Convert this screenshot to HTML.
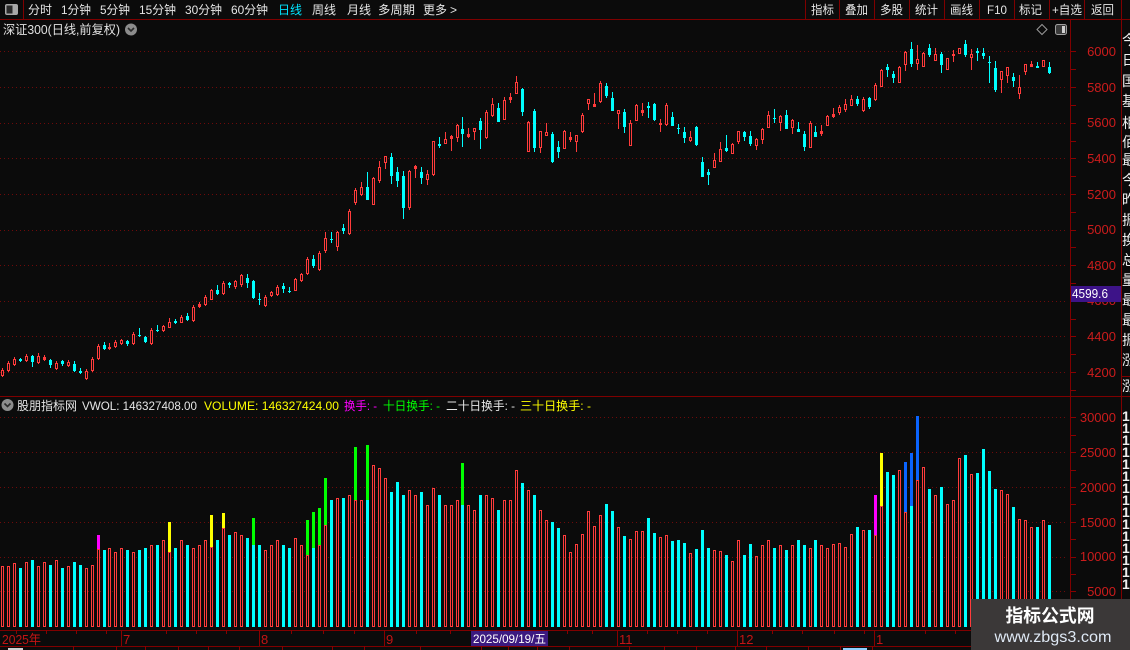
<!DOCTYPE html>
<html><head><meta charset="utf-8">
<style>
html,body{margin:0;padding:0;background:#0b0b0b;width:1130px;height:650px;overflow:hidden}
svg{display:block}
text{font-family:"Liberation Sans","Noto Sans CJK SC",sans-serif}
</style></head><body>
<svg id="s" width="1130" height="650" viewBox="0 0 1130 650" xmlns="http://www.w3.org/2000/svg">
<rect width="1130" height="650" fill="#0b0b0b"/>
<g id="grid"></g>
<g id="cand"></g>
<g id="vol"></g>

<!-- frame lines -->
<g stroke="#7f0000" stroke-width="1" fill="none">
<line x1="0" y1="19.5" x2="1130" y2="19.5"/>
<line x1="23.5" y1="0" x2="23.5" y2="19"/>
<line x1="805.5" y1="0" x2="805.5" y2="19"/>
<line x1="839.5" y1="0" x2="839.5" y2="19"/>
<line x1="874.5" y1="0" x2="874.5" y2="19"/>
<line x1="909.5" y1="0" x2="909.5" y2="19"/>
<line x1="944.5" y1="0" x2="944.5" y2="19"/>
<line x1="979.5" y1="0" x2="979.5" y2="19"/>
<line x1="1014.5" y1="0" x2="1014.5" y2="19"/>
<line x1="1049.5" y1="0" x2="1049.5" y2="19"/>
<line x1="1084.5" y1="0" x2="1084.5" y2="19"/>
<line x1="1121.5" y1="0" x2="1121.5" y2="650"/>
<line x1="1070.5" y1="19" x2="1070.5" y2="646"/>
<line x1="0" y1="396.5" x2="1130" y2="396.5"/>
<line x1="0" y1="630.5" x2="1121" y2="630.5"/>
<line x1="0" y1="646.5" x2="1130" y2="646.5"/>
<line x1="1121" y1="376.5" x2="1130" y2="376.5"/>
</g>
<g id="ticks" stroke="#8a0000" stroke-width="1"></g>

<!-- toolbar -->
<rect x="5" y="4" width="13" height="11" rx="2" fill="#a8a8a8"/>
<rect x="6.5" y="5.5" width="6" height="8" fill="#2a2a2a"/>
<g font-size="12" fill="#e6e6e6">
<text x="28" y="14" textLength="24" lengthAdjust="spacingAndGlyphs">分时</text>
<text x="61" y="14" textLength="30" lengthAdjust="spacingAndGlyphs">1分钟</text>
<text x="100" y="14" textLength="30" lengthAdjust="spacingAndGlyphs">5分钟</text>
<text x="139" y="14" textLength="37" lengthAdjust="spacingAndGlyphs">15分钟</text>
<text x="185" y="14" textLength="37" lengthAdjust="spacingAndGlyphs">30分钟</text>
<text x="231" y="14" textLength="37" lengthAdjust="spacingAndGlyphs">60分钟</text>
<text x="278" y="14" textLength="24" lengthAdjust="spacingAndGlyphs" fill="#00e4ff">日线</text>
<text x="312" y="14" textLength="24" lengthAdjust="spacingAndGlyphs">周线</text>
<text x="347" y="14" textLength="24" lengthAdjust="spacingAndGlyphs">月线</text>
<text x="378" y="14" textLength="37" lengthAdjust="spacingAndGlyphs">多周期</text>
<text x="423" y="14" textLength="24" lengthAdjust="spacingAndGlyphs">更多</text>
<text x="450" y="14">&gt;</text>
<text x="811" y="14" textLength="23" lengthAdjust="spacingAndGlyphs">指标</text>
<text x="845" y="14" textLength="23" lengthAdjust="spacingAndGlyphs">叠加</text>
<text x="880" y="14" textLength="23" lengthAdjust="spacingAndGlyphs">多股</text>
<text x="915" y="14" textLength="23" lengthAdjust="spacingAndGlyphs">统计</text>
<text x="950" y="14" textLength="23" lengthAdjust="spacingAndGlyphs">画线</text>
<text x="987" y="14" textLength="20" lengthAdjust="spacingAndGlyphs">F10</text>
<text x="1019" y="14" textLength="23" lengthAdjust="spacingAndGlyphs">标记</text>
<text x="1052" y="14" textLength="30" lengthAdjust="spacingAndGlyphs">+自选</text>
<text x="1091" y="14" textLength="23" lengthAdjust="spacingAndGlyphs">返回</text>
</g>

<!-- title line -->
<text x="3" y="34" font-size="12.5" fill="#e0e0e0" textLength="117" lengthAdjust="spacingAndGlyphs">深证300(日线,前复权)</text>
<circle cx="131" cy="29.5" r="6" fill="#8c8c8c"/>
<path d="M128 28 l3 3 l3 -3" stroke="#2a2a2a" stroke-width="1.6" fill="none"/>
<path d="M1042 24.5 l5 5 l-5 5 l-5 -5 z" stroke="#9a9a9a" fill="none"/>
<rect x="1055.5" y="24.5" width="11" height="10" rx="2" fill="#3a3a3a" stroke="#a0a0a0"/>
<rect x="1062" y="26" width="3" height="7" fill="#d0d0d0"/>

<!-- price axis labels -->
<g font-size="13" fill="#cc1c1c" text-anchor="end">
<text x="1116" y="56">6000</text>
<text x="1116" y="92">5800</text>
<text x="1116" y="127">5600</text>
<text x="1116" y="163">5400</text>
<text x="1116" y="199">5200</text>
<text x="1116" y="234">5000</text>
<text x="1116" y="270">4800</text>
<text x="1116" y="305">4600</text>
<text x="1116" y="341">4400</text>
<text x="1116" y="377">4200</text>
</g>
<rect x="1071" y="286" width="50" height="16" fill="#3d1388"/>
<text x="1072" y="298" font-size="12.5" fill="#ffffff" textLength="36" lengthAdjust="spacingAndGlyphs">4599.6</text>

<!-- volume header -->
<circle cx="7.5" cy="405" r="6" fill="#8c8c8c"/>
<path d="M4.5 403.5 l3 3 l3 -3" stroke="#2a2a2a" stroke-width="1.6" fill="none"/>
<g font-size="12">
<text x="17" y="410" fill="#e6e6e6" textLength="60" lengthAdjust="spacingAndGlyphs">股朋指标网</text>
<text x="82" y="410" fill="#e6e6e6" textLength="115" lengthAdjust="spacingAndGlyphs">VWOL: 146327408.00</text>
<text x="204" y="410" fill="#ffff00" textLength="135" lengthAdjust="spacingAndGlyphs">VOLUME: 146327424.00</text>
<text x="344" y="410" fill="#ff00ff" textLength="33" lengthAdjust="spacingAndGlyphs">换手: -</text>
<text x="383" y="410" fill="#00ff00" textLength="57" lengthAdjust="spacingAndGlyphs">十日换手: -</text>
<text x="446" y="410" fill="#e6e6e6" textLength="69" lengthAdjust="spacingAndGlyphs">二十日换手: -</text>
<text x="520" y="410" fill="#ffff00" textLength="71" lengthAdjust="spacingAndGlyphs">三十日换手: -</text>
</g>

<!-- volume axis labels -->
<g font-size="13" fill="#cc1c1c" text-anchor="end">
<text x="1116" y="422">30000</text>
<text x="1116" y="457">25000</text>
<text x="1116" y="492">20000</text>
<text x="1116" y="527">15000</text>
<text x="1116" y="561">10000</text>
<text x="1116" y="596">5000</text>
</g>

<!-- date axis -->
<g stroke="#8a0000" stroke-width="1">
<line x1="121.5" y1="630" x2="121.5" y2="646"/>
<line x1="259.5" y1="630" x2="259.5" y2="646"/>
<line x1="384.5" y1="630" x2="384.5" y2="646"/>
<line x1="617.5" y1="630" x2="617.5" y2="646"/>
<line x1="737.5" y1="630" x2="737.5" y2="646"/>
<line x1="874.5" y1="630" x2="874.5" y2="646"/>
</g>
<g id="dticks" stroke="#8a0000" stroke-width="1"></g>
<g font-size="13" fill="#c41414">
<text x="2" y="644" textLength="39" lengthAdjust="spacingAndGlyphs">2025年</text>
<text x="123" y="644">7</text>
<text x="261" y="644">8</text>
<text x="386" y="644">9</text>
<text x="619" y="644">11</text>
<text x="739" y="644">12</text>
<text x="876" y="644">1</text>
</g>
<rect x="471" y="631" width="77" height="15" fill="#3c1a80"/>
<text x="473" y="643" font-size="12" fill="#ffffff" textLength="73" lengthAdjust="spacingAndGlyphs">2025/09/19/五</text>

<!-- bottom row separators -->
<g id="brow" stroke="#8a0000" stroke-width="1"></g>
<rect x="8" y="648" width="15" height="2" fill="#d0d0d0"/>
<rect x="843" y="648" width="24" height="2" fill="#8fd0ff"/>

<!-- right side column -->
<g font-size="14" fill="#f0f0f0" clip-path="url(#rc)">
<text x="1122" y="45">今</text><text x="1122" y="65">日</text><text x="1122" y="86">国</text>
<text x="1122" y="106">基</text><text x="1122" y="128">相</text><text x="1122" y="147">佰</text>
<text x="1122" y="165">最</text><text x="1122" y="185">今</text><text x="1122" y="205">昨</text>
<text x="1122" y="225">振</text><text x="1122" y="245">换</text><text x="1122" y="265">总</text>
<text x="1122" y="285">量</text><text x="1122" y="305">最</text><text x="1122" y="325">最</text>
<text x="1122" y="345">振</text><text x="1122" y="365">涨</text><text x="1122" y="391">涨</text>
</g>
<g id="ones" font-size="14" font-weight="bold" fill="#f0f0f0"></g>
<defs><clipPath id="rc"><rect x="1122" y="20" width="8" height="630"/></clipPath></defs>

<!-- watermark -->
<rect x="971" y="599" width="159" height="51" fill="#3b3838"/>
<text x="1050" y="622" font-size="18" font-weight="bold" fill="#ffffff" text-anchor="middle" textLength="89" lengthAdjust="spacingAndGlyphs">指标公式网</text>
<text x="1053" y="642" font-size="16" fill="#dfe9f5" text-anchor="middle" textLength="117" lengthAdjust="spacingAndGlyphs">www.zbgs3.com</text>
</svg>
<script>
(function(){
const NS='http://www.w3.org/2000/svg';
function el(g,tag,a){const e=document.createElementNS(NS,tag);for(const k in a)e.setAttribute(k,a[k]);g.appendChild(e);return e;}
const RED='#ff3b3b',CY='#00ffff';
const C=[
[0,370,374.5,368,377],[0,363,369.5],[0,359,364,357,366],[1,358.5,361,357.5,362],[0,356,359.5],[1,356,362,355,367],[0,356,361.5,353],[0,356.5,359],[1,360,365,359,368],[0,363,367.5],
[1,361,364,360,366],[0,362,365],[1,364,371,361,372],[1,370.5,373,368,374],[0,371,377.5],[0,359,369.5],[0,345.5,357.5],[1,345,349,342,350],[0,346.5,347.5,342.5,349.5],[0,341.5,346],
[0,340,343,339,345],[1,341,344,340,346],[0,334,343],[1,334.5,335.5,328,337],[1,337,342,336,343],[0,330,343],[1,330,331,325,332],[0,326,330,325,332],[0,322,327,318,328],[1,320.5,323,319,324],
[0,317,322,315,323],[1,315.5,319.5,313,321],[0,307,319.5],[0,303.5,306,302,307.5],[0,297,303.5],[0,290,299,289,300],[1,290,293.5,285,294.5],[0,283,293],[1,282.5,284.5,282,288],[0,281,286,280,289],
[0,275,284,274,287],[1,278,282.5,274,288],[1,281,298,280,299],[1,299,300,293,305],[0,297,305],[0,292,295,291,297],[0,287,293.5],[1,286,289,283,293],[1,291,292,287,293],[0,279,289.5,278,290],
[0,274,280,273,282],[0,259,273],[1,259,266,255,268],[0,253,269],[0,238,250,232,253],[1,238.5,239.5,232,243],[0,232,246,231,251],[1,228,231,224,234],[0,211,233],[0,190,202,188,205],
[0,187,194,182,196],[1,187,200,172,200],[0,178,204,177,205],[0,167,180,161,183],[0,156,162,156,169],[1,157,176,153,184],[1,172,181,167,187],[1,176,208,171,219],[0,171,207,170,210],[0,166,168,165,178],
[1,172,178,167,184],[0,174,179,170,185],[0,141,174,141,176],[1,144,146,137,148],[0,139,143,132,144],[0,136,138,135,151],[0,125,137,124,142],[1,129,134,117,147],[0,134,136,128,138],[0,128,131,128,140],
[1,121,130,118,149],[0,112,137],[0,104,115,98,117],[1,108,122,103,122],[0,100,119,97,120],[0,97,99,93,103],[0,82,93,76,94],[1,89,112,88,116],[0,122,151,121,152],[1,111,148,109,152],
[0,131,147,131,153],[0,132,135,123,135],[1,134,162,132,163],[1,147,152,141,158],[0,131,148,130,149],[0,137,139,132,142],[0,135,141,135,152],[0,115,131],[0,99,103,99,110],[0,104,106,93,106],
[0,83,101],[1,86,96,83,98],[1,98,111,92,111],[0,110,113,110,129],[1,112,127,109,133],[0,123,145,120,145],[0,105,120,104,120],[0,110,112,103,116],[1,106,108,102,118],[1,104,120,103,121],
[0,122.5,123.5,119,132],[0,105,124],[1,117,126,112,126],[1,127.5,128.5,124,134],[1,132,138,127,143],[0,137,140,131,142],[1,127,145,126,146],[1,162,177,157,177],[1,172,175,169,185],[0,160,167,153,167],
[0,149,161,142,161],[1,148,151,135,152],[0,144,153,143,154],[0,131,141,131,144],[1,132,137,131,141],[1,136,144,131,146],[0,139,145,138,150],[0,129,139,128,144],[0,115,127,111,127],[1,117.5,118.5,109,123],
[0,116,122,115,131],[1,115,129,110,129],[0,120,127,119,134],[1,129,132,122,132],[1,134,147,131,151],[0,123,147,121,147],[1,132,137,126,137],[0,131,133,125,136],[0,116,125,115,125],[0,114,116,108,118],
[0,107,112,105,115],[0,104,109,99,112],[0,99,105,95,106],[1,99,104,96,106],[0,99,110],[1,98,107,97,109],[0,85,99],[0,70,86,69,87],[1,67,70,64,77],[1,74,78,71,83],
[0,67,82,66,82],[0,52,64,51,71],[1,49,64,42,67],[0,59,63,45,70],[0,53,66,52,66],[1,48,55,44,57],[0,54,60,48,60],[1,54,65,52,73],[0,58,69,58,70],[0,54,55,50,62],
[0,48,53,48,54],[1,44,55,40,57],[0,54,57,49,70],[1,51,53,48,61],[1,53,56,48,59],[1,62,63,56,83],[1,68,90,61,92],[0,71,79,71,93],[0,67,75,67,83],[1,77,81,73,87],
[0,87,93,75,99],[0,64,71,64,75],[0,64,65.5,61,67],[1,66,67.5,62,68],[0,60,66,60,67],[1,67,73,62,74]
];
const V=[566,566,563,568,562,560,566,562,565,560,568,566,562,565,568,565,
535,550,548,552,548,550,552,550,548,545,545,540,522,548,540,545,
548,545,540,515,540,513,535,532,535,538,518,545,550,545,540,545,
548,538,545,520,512,508,478,500,498,498,495,447,500,445,465,468,
478,492,482,495,490,495,492,505,488,495,505,505,500,463,505,510,
495,495,498,510,500,500,470,483,490,495,510,520,522,528,
535,552,544,534,511,526,515,504,511,527,536,539,531,531,518,533,537,535,541,540,543,553,549,530,548,550,551,555,561,540,555,544,556,
545,540,548,545,550,545,540,545,548,540,545,548,
544,543,547,534,527,530,530,495,453,472,475,470,462,453,416,467,489,495,487,504,500,458,455,474,473,449,471,489,490,494,507,519,520,527,527,520,525];
const MG='#ff00ff',YL='#ffff00',GR='#00ff00',BL='#0a64ff';
const O={16:[MG,535,549],28:[YL,522,552],35:[YL,515,547],37:[YL,513,528],42:[GR,518,545],51:[GR,520,555],52:[GR,512,548],53:[GR,508,545],54:[GR,478,525],59:[GR,447,500],61:[GR,445,500],77:[GR,463,505],146:[MG,495,535],147:[YL,453,506],151:[BL,462,512],152:[BL,453,506],153:[BL,416,480]};
const g=document.getElementById('grid'),gc=document.getElementById('cand'),gv=document.getElementById('vol'),gt=document.getElementById('ticks');
// price grid
for(let p=4200;p<=6000;p+=200){const y=Math.round(372-(p-4200)*0.17806)+0.5;
 el(g,'line',{x1:0,y1:y,x2:1068,y2:y,stroke:'#6e0a0a','stroke-width':1,'stroke-dasharray':'1 3'});}
for(let p=4100;p<=6050;p+=100){const y=Math.round(372-(p-4200)*0.17806)+0.5; if(y<22||y>392)continue;
 el(gt,'line',{x1:1071,y1:y,x2:1076,y2:y});}
for(let v=5000;v<=30000;v+=5000){const y=Math.round(626.1-v*0.00696)+0.5;
 el(g,'line',{x1:0,y1:y,x2:1068,y2:y,stroke:'#6e0a0a','stroke-width':1,'stroke-dasharray':'1 3'});}
for(let v=2500;v<=32000;v+=2500){const y=Math.round(626.1-v*0.00696)+0.5; if(y<400)continue;
 el(gt,'line',{x1:1071,y1:y,x2:1076,y2:y});}
// candles
C.forEach((c,i)=>{
 const x=Math.round(0.8+i*5.983);
 let t=c[0],top=Math.round(c[1]),bot=Math.round(c[2]);
 let hi=c[3]!==undefined?Math.round(c[3]):top-2, lo=c[4]!==undefined?Math.round(c[4]):bot+2;
 if(bot-top<1)bot=top+1;
 const col=t?CY:RED;
 if(hi<top)el(gc,'rect',{x:x+1,y:hi,width:1,height:top-hi,fill:col});
 if(lo>bot)el(gc,'rect',{x:x+1,y:bot,width:1,height:lo-bot,fill:col});
 if(t)el(gc,'rect',{x:x,y:top,width:3,height:bot-top,fill:col});
 else if(bot-top<=2)el(gc,'rect',{x:x,y:top,width:3,height:bot-top+1,fill:col});
 else el(gc,'rect',{x:x+0.5,y:top+0.5,width:2,height:bot-top,fill:'none',stroke:col,'stroke-width':1});
});
// volume
V.forEach((v,i)=>{
 const x=Math.round(0.8+i*5.983);let top=v;const o=O[i];
 if(o){el(gv,'rect',{x:x,y:o[1],width:3,height:o[2]-o[1],fill:o[0]});top=o[2];}
 if(C[i][0])el(gv,'rect',{x:x,y:top,width:3,height:627-top,fill:CY});
 else el(gv,'rect',{x:x+0.5,y:top+0.5,width:2,height:626-top,fill:'none',stroke:RED,'stroke-width':1});
});
// date small ticks
const dt=document.getElementById('dticks');
[16,46,76,106,166,196,226,291,323,354,416,450,507,537,567,592,647,677,707,772,802,834,864,925,955].forEach(x=>{
 el(dt,'line',{x1:x+0.5,y1:630,x2:x+0.5,y2:634});});
// bottom row separators
const br=document.getElementById('brow');
[73,116,145,178,208,239,282,332,364,420,481,508,537,569,629,664,696,735,766,808,840,872].forEach(x=>{
 el(br,'line',{x1:x+0.5,y1:646,x2:x+0.5,y2:650});});
// right column ones
const on=document.getElementById('ones');
for(let k=0;k<15;k++){const t=el(on,'text',{x:1122,y:421+k*12});t.textContent='1';}
})();
</script>
</body></html>
